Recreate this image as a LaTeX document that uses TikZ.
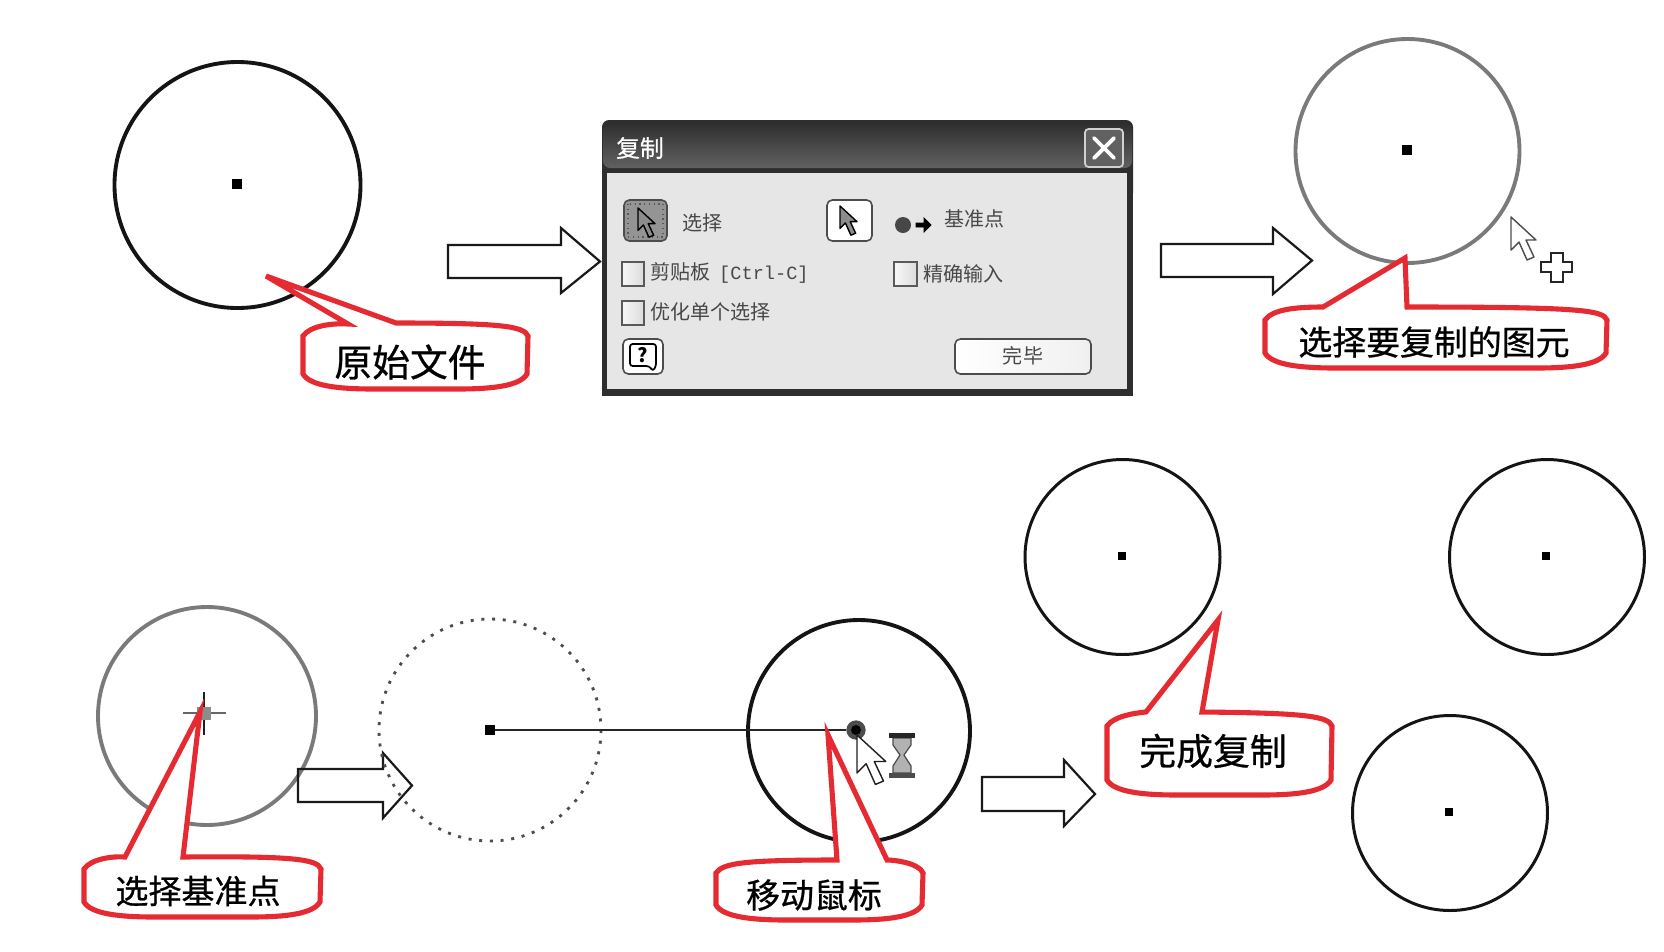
\documentclass[tikz,border=0pt]{standalone}
\usepackage{fontspec}
\setmainfont{Noto Sans CJK SC}
\newfontfamily\latinmono{Liberation Mono}
\newfontfamily\boldish[FakeBold=0.7]{Noto Sans CJK SC}
\usetikzlibrary{calc}
\definecolor{calloutred}{HTML}{E52A31}
\definecolor{dlgbody}{HTML}{E6E6E6}
\newcommand{\fs}[1]{\fontsize{#1}{#1}\selectfont}
\tikzset{
  calloutline/.style={draw=calloutred,line width=2.9pt,line join=miter,fill=white},
  bigarrow/.style={draw=black!90,line width=1.25pt,line join=miter},
  ringblack/.style={draw=black!92,line width=2.2pt},
  ringthin/.style={draw=black!92,line width=1.7pt},
  ringgray/.style={draw=black!52,line width=2.2pt},
  centerdot/.style={fill=black,inner sep=0pt,minimum size=5.8pt,rectangle},
  smalldot/.style={fill=black,inner sep=0pt,minimum size=4.6pt,rectangle},
  calltext/.style={inner sep=0pt,text=black},
  dlgtext/.style={inner sep=0pt,text=black!72,font=\fs{11.4},anchor=west},
  checkbox/.style={draw=black!65,line width=0.8pt,left color=black!3,right color=black!14},
  dlgbtn/.style={draw=black!70,line width=0.9pt,rounded corners=3pt,fill=white},
  cursor/.style={draw=black!80,line width=0.8pt,fill=white,line join=round},
}
% L T R B tailL tip tailR
\newcommand{\callout}[7]{%
  \draw[calloutline] (#1,#2+13) .. controls (#1+7,#2+3) and (#1+28,#2) .. (#5) -- (#6) -- (#7)
    .. controls (#3-28,#2) and (#3-4,#2+3) .. (#3,#2+13) -- (#3-1,#4-15)
    .. controls (#3-8,#4-3) and (#3-36,#4) .. (#3-70,#4) -- (#1+70,#4)
    .. controls (#1+36,#4) and (#1+7,#4-3) .. (#1,#4-15) -- cycle;}
% tail L, shaft top, shaft bottom, head top, head bottom, base x, tip x
\newcommand{\blockarrow}[7]{%
  \draw[bigarrow] (#1,#2) -- (#6,#2) -- (#6,#4) -- (#7,{(#2+#3)/2}) -- (#6,#5) -- (#6,#3) -- (#1,#3) -- cycle;}
\newcommand{\arrowshape}{(0,0) -- (0,33) -- (8,25) -- (16,43) -- (23,40) -- (15,23) -- (25,23) -- cycle}
\begin{document}
\begin{tikzpicture}[x=0.02cm,y=-0.02cm]
\useasboundingbox (0,0) rectangle (1664,951);
\fill[white] (0,0) rectangle (1664,951);

% ---------- top row
\draw[ringblack] (237.5,185) circle (123);
\node[centerdot] (dotA) at (237,184) {};
\blockarrow{448}{245}{278}{228}{293}{561}{600}
\callout{303}{323}{528}{389}{348,324}{266,276}{396,323}
\node[calltext,font=\fs{21.5}\boldish] (labelA) at (410,362) {原始文件};

% dialog
\fill[black!82,rounded corners=4pt] (602,200) -- (602,120) -- (1133,120) -- (1133,200) -- cycle;
\fill[black!82] (602,180) rectangle (1133,396);
\shade[top color=black!82,bottom color=black!62,rounded corners=4pt] (603,122) -- (1132,122) -- (1132,168) -- (603,168) -- cycle;
\fill[dlgbody] (607,173) rectangle (1127,389);
\node[inner sep=0pt,text=white,font=\fs{13.5}\boldish] (dlgTitle) at (640,148) {复制};
\draw[draw=black!18,line width=1pt,fill=black!62,rounded corners=2pt] (1085,129) rectangle (1123,167);
\draw[white,line width=2.2pt,line cap=round] (1094,138) -- (1114,158) (1114,138) -- (1094,158);

\draw[dlgbtn,fill=black!42] (624,200) rectangle (667,241);
\draw[black!65,line width=0.7pt,dotted] (628,204) rectangle (663,237);
\draw[cursor,fill=black!45,draw=black,shift={(638,208)},scale=0.68] \arrowshape;
\node[dlgtext] (txtSelect) at (682,223) {选择};

\draw[dlgbtn] (827,200) rectangle (872,241);
\draw[cursor,fill=black!45,draw=black,shift={(840,206)},scale=0.68] \arrowshape;
\fill[black!72] (903,225) circle (8);
\draw[black,line width=0.5pt,fill=black] (916,223) -- (924,223) -- (924,218) -- (931,225) -- (924,232) -- (924,227) -- (916,227) -- cycle;
\node[dlgtext] (txtBase) at (944,219) {基准点};

\draw[checkbox] (622,262) rectangle (644,286);
\node[dlgtext] (txtClip) at (650,273) {剪贴板\hspace{5pt}{\latinmono\fs{10.6}[Ctrl-C]}};
\draw[checkbox] (894,262) rectangle (917,286);
\node[dlgtext] (txtExact) at (923,274) {精确输入};
\draw[checkbox] (622,301) rectangle (644,325);
\node[dlgtext] (txtOpt) at (650,312) {优化单个选择};

\draw[dlgbtn] (623,339) rectangle (663,374);
\draw[black,line width=1pt,rounded corners=1.5pt,fill=white] (630,344) -- (656,344) -- (656,366) -- (653,371) -- (649,366) -- (630,366) -- cycle;
\node[inner sep=0pt,font=\fs{11}\bfseries] (txtHelp) at (643,355) {?};
\draw[dlgbtn,left color=white,right color=black!6] (955,339) rectangle (1091,374);
\node[inner sep=0pt,text=black!72,font=\fs{11.4}] (txtDone) at (1023,356) {完毕};

\blockarrow{1161}{244}{277}{228}{294}{1273}{1312}
\draw[ringgray] (1407.5,151) circle (112);
\node[centerdot] (dotB) at (1407,150) {};
\draw[cursor,draw=black!70,shift={(1511,217)}] \arrowshape;
\draw[draw=black!85,line width=1pt,fill=white] (1551,253) -- (1563,253) -- (1563,262) -- (1572,262) -- (1572,272) -- (1563,272) -- (1563,282) -- (1551,282) -- (1551,272) -- (1541,272) -- (1541,262) -- (1551,262) -- cycle;
\callout{1265}{307}{1607}{368}{1323,307}{1405,258}{1407,307}
\node[calltext,font=\fs{19.3}\boldish] (labelB) at (1434,342) {选择要复制的图元};

% ---------- bottom row
\draw[ringgray] (207,716) circle (109);
\blockarrow{298}{769}{802}{753}{818}{383}{412}
\draw[black!88,line width=1.6pt] (204,692) -- (204,735);
\draw[black!60,line width=1.6pt] (183,713) -- (226,713);
\fill[black!45] (197,707) rectangle (211,720);
\callout{84}{856}{321}{917}{125,857}{200,712}{183,857}
\node[calltext,font=\fs{18.8}\boldish] (labelC) at (198,891) {选择基准点};

\draw[black!70,line width=1.6pt,dash pattern=on 1.7pt off 4.4pt] (490,730) circle (111);
\node[centerdot] (dotC) at (490,730) {};
\draw[ringblack] (859,731) circle (111);
\node[circle,fill=black!70,inner sep=0pt,minimum size=11pt] (dotD) at (856,730) {};
\fill[black] (856,730) circle (5);
\draw[black!85,line width=1.4pt] (dotC) -- (dotD);
\draw[cursor,draw=black!88,shift={(857,735)},scale=1.15] \arrowshape;
% hourglass
\draw[black!70,line width=0.7pt,fill=black!30] (893,738) -- (911,738) -- (911,745) -- (904,755) -- (911,766) -- (911,773) -- (893,773) -- (893,766) -- (900,755) -- (893,745) -- cycle;
\fill[black!85] (889,733) rectangle (915,738);
\fill[black!70] (889,773) rectangle (915,778);
\callout{716}{860}{923}{920}{837,860}{828,735}{887,860}
\node[calltext,font=\fs{19.3}\boldish] (labelD) at (814,895) {移动鼠标};

\blockarrow{982}{777}{811}{760}{826}{1064}{1095}
\draw[ringthin] (1122.5,557) circle (97.5);
\node[smalldot] (dotE) at (1122,556) {};
\draw[ringthin] (1547,557) circle (97.5);
\node[smalldot] (dotF) at (1546,556) {};
\draw[ringthin] (1450,813) circle (97.5);
\node[smalldot] (dotG) at (1449,812) {};
\callout{1107}{713}{1332}{795}{1146,712}{1218,620}{1202,712}
\node[calltext,font=\fs{21}\boldish] (labelE) at (1213,751) {完成复制};
\end{tikzpicture}
\end{document}
